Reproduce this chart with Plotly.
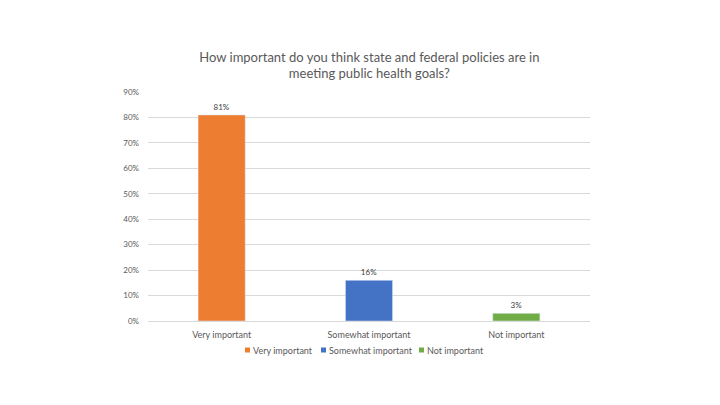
import plotly.graph_objects as go

categories = ["Very important", "Somewhat important", "Not important"]
values = [0.81, 0.16, 0.03]
labels = ["81%", "16%", "3%"]
colors = ["#ED7D31", "#4472C4", "#70AD47"]
y_ticks = [0, 0.1, 0.2, 0.3, 0.4, 0.5, 0.6, 0.7, 0.8, 0.9]

# legend layout (pixel x of each legend swatch)
legend_px = [245, 321, 419]
plot_left, plot_right = 148, 590
legend_y_px = 350
plot_top, plot_bottom = 92, 321

fig = go.Figure()
for c, v, lab, col in zip(categories, values, labels, colors):
    fig.add_trace(go.Bar(
        x=[c], y=[v], name=c, marker_color=col, width=0.32,
        text=[lab], textposition="outside", cliponaxis=False,
        textfont=dict(size=8, color="#404040"),
        showlegend=False,
    ))

def px_to_x(px):
    return (px - plot_left) / (plot_right - plot_left)

def py_to_y(py):
    return (plot_bottom - py) / (plot_bottom - plot_top)

ly = py_to_y(legend_y_px)
sq_h = 5 / (plot_bottom - plot_top)
for c, col, px in zip(categories, colors, legend_px):
    x0 = px_to_x(px)
    x1 = px_to_x(px + 5)
    fig.add_shape(type="rect", xref="paper", yref="paper",
                  x0=x0, x1=x1, y0=ly - sq_h / 2, y1=ly + sq_h / 2,
                  fillcolor=col, line_width=0)
    fig.add_annotation(xref="paper", yref="paper", x=px_to_x(px + 6), y=ly,
                       xanchor="left", yanchor="middle", text=c, showarrow=False,
                       font=dict(size=9, color="#595959"))

fig.update_layout(
    width=720, height=405,
    margin=dict(l=plot_left, r=720 - plot_right, t=plot_top, b=405 - plot_bottom),
    paper_bgcolor="white", plot_bgcolor="white",
    font=dict(family="Lato, Open Sans, sans-serif", color="#595959"),
    barmode="overlay",
    title=dict(
        text="How important do you think state and federal policies are in<br>meeting public health goals?",
        x=0.513, xanchor="center", y=0.848, yanchor="middle",
        font=dict(size=13, color="#595959"),
    ),
    showlegend=False,
    xaxis=dict(
        categoryorder="array", categoryarray=categories,
        showline=True, linecolor="#D9D9D9", linewidth=1,
        tickfont=dict(size=9, color="#595959"), ticks="",
        ticklabelstandoff=5,
    ),
    yaxis=dict(
        range=[0, 0.9], tickvals=y_ticks, tickformat=".0%",
        showgrid=True, gridcolor="#D9D9D9", gridwidth=1,
        zeroline=False, tickfont=dict(size=8, color="#595959"),
        ticklabelstandoff=8,
    ),
)

fig.write_html("out.html")
